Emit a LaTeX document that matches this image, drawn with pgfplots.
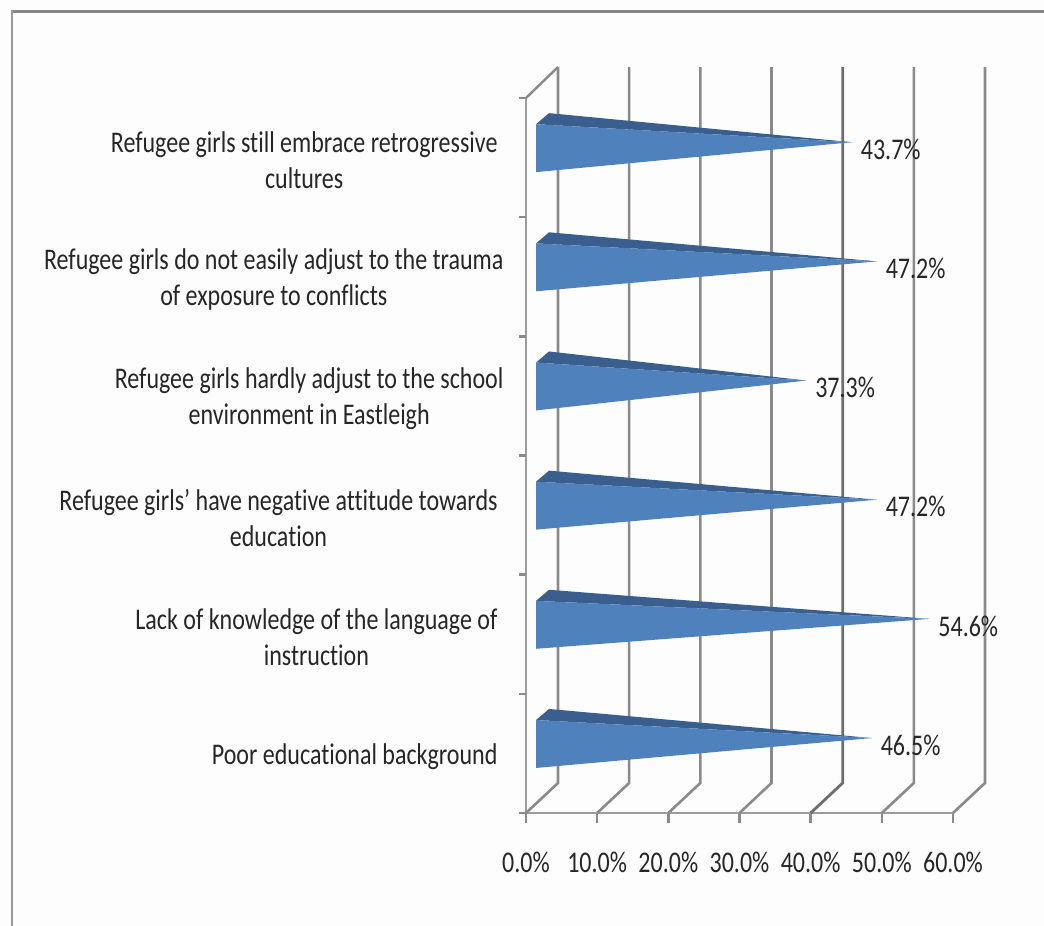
\documentclass[border=0pt]{standalone}
\usepackage{fontspec}
\setmainfont[FakeStretch=0.8,Ligatures=NoCommon]{Carlito}
\usepackage{pgfplots}
\pgfplotsset{compat=1.18}

\definecolor{barfront}{HTML}{4F81BD}
\definecolor{bartop}{HTML}{3A5F8F}
\definecolor{gridgray}{HTML}{8A8A8A}
\definecolor{griddark}{HTML}{6E6E6E}
\definecolor{framegray}{HTML}{868686}
\definecolor{sheet}{HTML}{FDFDFD}
\definecolor{labelink}{HTML}{262626}

% One tapered 3-D bar: #1 = lower tick position of its slot, #2 = value in percent
\newcommand{\taperbar}[2]{%
  \addplot[draw=none, fill=bartop, forget plot]
    coordinates {(1.41,#1+0.78) (3.23,#1+0.873) (#2+2.1,#1+0.629)} -- cycle;
  \addplot[draw=none, fill=barfront, forget plot]
    coordinates {(1.41,#1+0.378) (1.41,#1+0.78) (#2+2.1,#1+0.629)} -- cycle;
  \node[font=\fontsize{30}{36}\selectfont, text=labelink, anchor=center]
    at (axis cs:#2+7.55,#1+0.57) {#2\%};
}

\begin{document}
\begin{tikzpicture}
  \useasboundingbox (-526pt,-113pt) rectangle (518pt,813pt);
  \fill[sheet] (-526pt,-113pt) rectangle (518pt,813pt);
  % Sheet border, top and left only
  \draw[framegray, line width=3pt] (-515pt,801.5pt) -- (518pt,801.5pt);
  \draw[framegray!85, line width=2.4pt] (-514pt,803pt) -- (-514pt,-113pt);
  \begin{axis}[
    scale only axis,
    width=427pt, height=715pt,
    xmin=0, xmax=60, ymin=0, ymax=6,
    clip=false,
    axis x line=bottom, axis y line=left,
    axis line style={-, draw=gridgray!85, line width=2.6pt},
    xtick={0,10,...,60},
    xticklabels={0.0\%,10.0\%,20.0\%,30.0\%,40.0\%,50.0\%,60.0\%},
    tick align=outside,
    major tick length=10pt,
    x tick style={draw=gridgray, line width=2.4pt},
    ytick={0.5,1.5,2.5,3.5,4.5,5.5},
    yticklabels={
      {Poor educational background},
      {Lack of knowledge of the language of\\instruction},
      {Refugee girls’ have negative attitude towards\\education},
      {Refugee girls hardly adjust to the school\kern-6pt\\environment in Eastleigh\kern-6pt},
      {Refugee girls do not easily adjust to the trauma\kern-6pt\\of exposure to conflicts\kern-6pt},
      {Refugee girls still embrace retrogressive\\cultures}},
    y tick style={draw=none},
    ticklabel style={font=\fontsize{30}{36}\selectfont, text=labelink},
    yticklabel style={align=center, anchor=east, xshift=-15pt, yshift=-3pt},
    xticklabel style={anchor=center, yshift=-39pt},
    /pgf/number format/assume math mode=true,
  ]
    % Back wall gridlines with their floor returns
    \pgfplotsinvokeforeach{0,10,20,30,50,60}{
      \addplot[gridgray, line width=2.6pt, forget plot]
        coordinates {(#1,0) (#1+4.5,0.252) (#1+4.5,6.26)};
    }
    \addplot[griddark, line width=2.8pt, forget plot]
      coordinates {(40,0) (44.5,0.252) (44.5,6.26)};
    % Upper left return of the wall
    \addplot[gridgray, line width=2.4pt, forget plot]
      coordinates {(0,6) (4.5,6.26)};
    % Slot divider ticks on the category axis
    \pgfplotsinvokeforeach{0,1,2,3,4,5,6}{
      \addplot[gridgray, line width=2.4pt, forget plot]
        coordinates {(-1,#1) (0,#1)};
    }

    \taperbar{0}{46.5}
    \taperbar{1}{54.6}
    \taperbar{2}{47.2}
    \taperbar{3}{37.3}
    \taperbar{4}{47.2}
    \taperbar{5}{43.7}
  \end{axis}
\end{tikzpicture}
\end{document}
